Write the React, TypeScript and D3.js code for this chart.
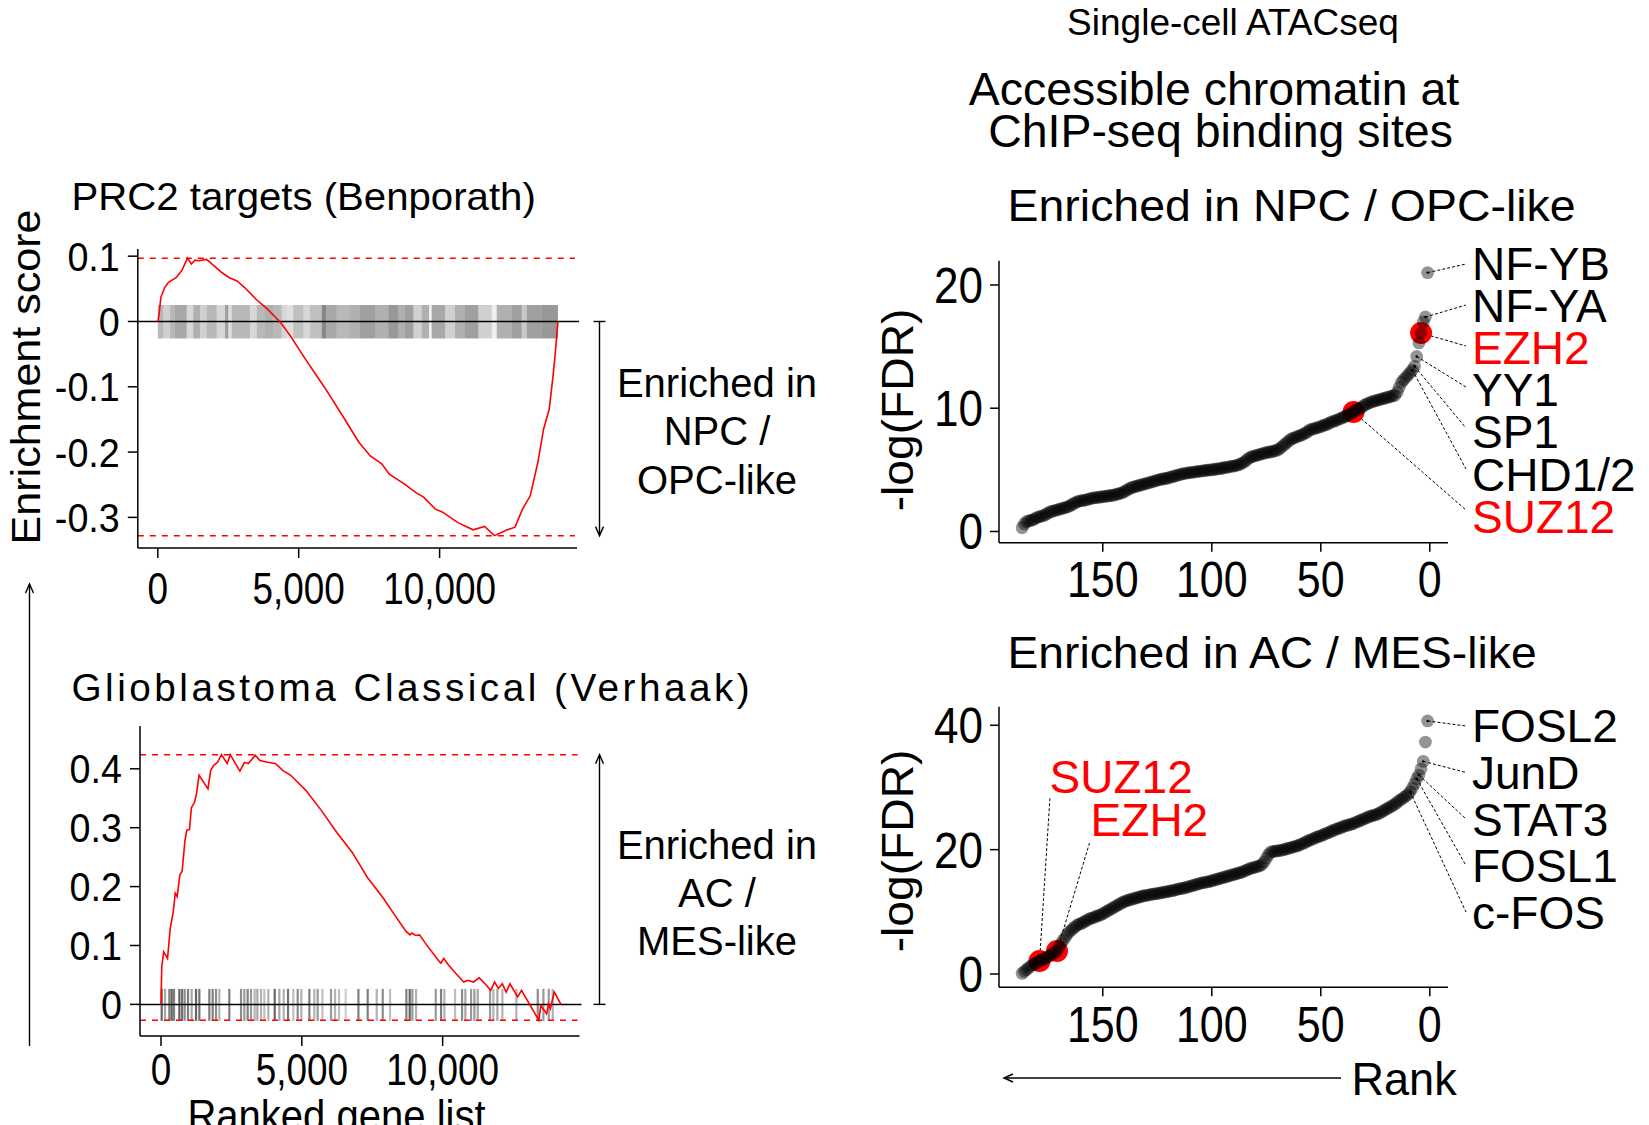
import React from 'react';
import * as d3 from 'd3';

const W = 1649;
const H = 1125;
const FONT = '"Liberation Sans", Arial, Helvetica, sans-serif';

// ---------- GSEA: PRC2 targets (Benporath) ----------
const prc2Rank = [0, 40, 108, 243, 378, 649, 851, 1054, 1189, 1324, 1459, 1730, 2000, 2270, 2540, 2811, 3081, 3486, 3892, 4365, 4703, 5243, 5919, 6595, 7135, 7541, 7946, 8216, 8757, 9162, 9432, 9838, 10108, 10649, 11189, 11595, 11946, 12405, 12676, 12946, 13216, 13486, 13689, 13892, 14027, 14095, 14200];
const prc2Score = [0, 0.009, 0.037, 0.052, 0.06, 0.067, 0.078, 0.097, 0.088, 0.094, 0.093, 0.095, 0.085, 0.075, 0.067, 0.062, 0.052, 0.034, 0.019, -0.002, -0.022, -0.058, -0.101, -0.147, -0.185, -0.206, -0.218, -0.234, -0.249, -0.262, -0.269, -0.287, -0.292, -0.308, -0.319, -0.314, -0.328, -0.319, -0.315, -0.287, -0.267, -0.216, -0.165, -0.134, -0.083, -0.053, 0];
// barcode read as bands: [from gene, to gene, darkness]
const prc2Rug: [number, number, number][] = [
  [0, 195, 0.45], [195, 433, 0.3], [433, 610, 0.45], [610, 1026, 0.55], [1026, 1260, 0.25], [1260, 1497, 0.5],
  [1497, 1735, 0.3], [1735, 2090, 0.45], [2090, 2385, 0.25], [2385, 2502, 0.6], [2502, 2622, 0.2], [2622, 3272, 0.45],
  [3272, 3510, 0.25], [3510, 3801, 0.45], [3801, 4099, 0.5], [4099, 4397, 0.45], [4397, 4574, 0.25], [4574, 4808, 0.2],
  [4808, 5163, 0.4], [5163, 5401, 0.25], [5401, 5816, 0.4], [5816, 5969, 0.75], [5969, 6348, 0.55], [6348, 6821, 0.45],
  [6821, 7175, 0.5], [7175, 7708, 0.6], [7708, 8180, 0.5], [8180, 8535, 0.65], [8535, 8772, 0.5], [8772, 9068, 0.6],
  [9068, 9365, 0.3], [9365, 9624, 0.5], [9624, 9719, 0.1], [9719, 10192, 0.55], [10192, 10546, 0.3], [10546, 10901, 0.5],
  [10901, 11373, 0.6], [11373, 11849, 0.3], [11849, 12026, 0.1], [12026, 12559, 0.5], [12559, 12913, 0.6],
  [12913, 13091, 0.35], [13091, 13623, 0.6], [13623, 14200, 0.65],
];
const prc2YTicks = [0.1, 0, -0.1, -0.2, -0.3];

// ---------- GSEA: Glioblastoma Classical (Verhaak) ----------
const gbmRank = [0, 27, 96, 232, 328, 437, 505, 574, 669, 751, 847, 915, 1011, 1079, 1189, 1257, 1352, 1667, 1762, 1872, 2008, 2145, 2350, 2459, 2801, 2964, 3101, 3347, 3511, 3784, 4057, 4331, 4604, 5150, 5697, 6243, 6790, 7336, 7883, 8292, 8702, 8839, 8907, 9044, 9180, 9385, 9795, 9932, 10041, 10205, 10478, 10751, 10888, 11093, 11298, 11503, 11708, 11844, 11981, 12117, 12254, 12391, 12664, 12800, 13415, 13484, 13689, 13757, 13825, 13962, 14200];
const gbmScore = [0, 0.064, 0.089, 0.078, 0.129, 0.158, 0.189, 0.183, 0.22, 0.226, 0.277, 0.296, 0.297, 0.334, 0.343, 0.357, 0.389, 0.366, 0.397, 0.406, 0.411, 0.424, 0.409, 0.424, 0.396, 0.411, 0.409, 0.423, 0.414, 0.411, 0.409, 0.397, 0.389, 0.363, 0.329, 0.292, 0.258, 0.215, 0.181, 0.152, 0.124, 0.118, 0.121, 0.117, 0.118, 0.104, 0.078, 0.07, 0.078, 0.067, 0.052, 0.038, 0.041, 0.038, 0.045, 0.035, 0.024, 0.038, 0.027, 0.035, 0.021, 0.035, 0.0125, 0.024, -0.027, -0.002, -0.016, 0.001, -0.007, 0.021, 0];
const gbmHits = [24, 142, 296, 379, 462, 651, 746, 840, 959, 1089, 1243, 1361, 1716, 1834, 1953, 2071, 2426, 2841, 2959, 3077, 3196, 3326, 3421, 3551, 3669, 3811, 4037, 4202, 4356, 4510, 4699, 4853, 4983, 5268, 5444, 5563, 5729, 6037, 6179, 6321, 6558, 7010, 7339, 7659, 7872, 8132, 8712, 8830, 8925, 9055, 9755, 9943, 10061, 10440, 10689, 10807, 11009, 11127, 11245, 11683, 11801, 11943, 12120, 12617, 13377, 13577, 13767, 13909];
const gbmHitShade = [0.6, 0.35, 0.5, 0.6, 0.5, 0.6, 0.55, 0.45, 0.5, 0.35, 0.6, 0.55, 0.5, 0.5, 0.45, 0.3, 0.5, 0.45, 0.4, 0.5, 0.4, 0.3, 0.35, 0.3, 0.25, 0.3, 0.6, 0.35, 0.3, 0.55, 0.25, 0.45, 0.3, 0.5, 0.3, 0.4, 0.25, 0.4, 0.3, 0.25, 0.2, 0.5, 0.5, 0.3, 0.45, 0.25, 0.5, 0.6, 0.4, 0.3, 0.4, 0.5, 0.3, 0.25, 0.45, 0.35, 0.4, 0.4, 0.35, 0.4, 0.3, 0.35, 0.3, 0.3, 0.45, 0.4, 0.4, 0.3];
const gbmYTicks = [0.4, 0.3, 0.2, 0.1, 0];

const geneTicks = [0, 5000, 10000];
const geneTickLabels = ['0', '5,000', '10,000'];

// ---------- scATAC: -log(FDR) by rank (rank 1 first) ----------
const npcFDR = [
  21.0, 17.4, 17.0, 16.1, 15.3, 14.2, 13.4, 13.1, 12.9, 12.7,
  12.5, 12.3, 12.1, 11.7, 11.3, 11.05, 11.0, 10.95, 10.9, 10.85,
  10.8, 10.75, 10.7, 10.65, 10.6, 10.55, 10.5, 10.4, 10.35, 10.25,
  10.1, 10.0, 9.9, 9.85, 9.7, 9.6, 9.5, 9.4, 9.3, 9.25,
  9.15, 9.1, 9.0, 8.95, 8.9, 8.8, 8.7, 8.65, 8.6, 8.5,
  8.45, 8.4, 8.35, 8.3, 8.25, 8.1, 8.0, 7.9, 7.8, 7.75,
  7.7, 7.6, 7.55, 7.45, 7.3, 7.15, 7.0, 6.85, 6.7, 6.6,
  6.55, 6.5, 6.45, 6.45, 6.4, 6.35, 6.3, 6.25, 6.2, 6.15,
  6.1, 6.05, 5.95, 5.8, 5.65, 5.55, 5.45, 5.4, 5.35, 5.3,
  5.3, 5.25, 5.2, 5.2, 5.15, 5.1, 5.1, 5.05, 5.05, 5.0,
  5.0, 4.98, 4.95, 4.92, 4.9, 4.88, 4.85, 4.82, 4.8, 4.78,
  4.75, 4.72, 4.7, 4.65, 4.6, 4.55, 4.5, 4.45, 4.4, 4.35,
  4.3, 4.28, 4.25, 4.2, 4.15, 4.1, 4.05, 4.0, 3.95, 3.9,
  3.85, 3.8, 3.75, 3.7, 3.65, 3.6, 3.55, 3.45, 3.35, 3.25,
  3.15, 3.1, 3.05, 3.0, 2.95, 2.92, 2.9, 2.88, 2.85, 2.82,
  2.8, 2.78, 2.75, 2.72, 2.7, 2.65, 2.6, 2.55, 2.52, 2.5,
  2.45, 2.4, 2.3, 2.2, 2.1, 2.0, 1.95, 1.9, 1.85, 1.8,
  1.75, 1.7, 1.65, 1.6, 1.5, 1.4, 1.3, 1.25, 1.2, 1.15,
  1.05, 0.95, 0.9, 0.85, 0.8, 0.6, 0.3,
];
const acFDR = [
  40.7, 37.3, 34.2, 33.0, 32.0, 31.4, 30.6, 29.9, 29.3, 28.9,
  28.6, 28.4, 28.1, 27.9, 27.6, 27.3, 27.1, 26.9, 26.7, 26.5,
  26.3, 26.1, 25.9, 25.7, 25.6, 25.5, 25.4, 25.3, 25.1, 25.0,
  24.8, 24.7, 24.5, 24.4, 24.2, 24.1, 24.0, 23.9, 23.8, 23.7,
  23.5, 23.4, 23.3, 23.1, 23.0, 22.8, 22.7, 22.5, 22.4, 22.2,
  22.1, 22.0, 21.8, 21.7, 21.5, 21.4, 21.2, 21.0, 20.9, 20.7,
  20.6, 20.5, 20.4, 20.3, 20.2, 20.1, 20.0, 19.9, 19.85, 19.8,
  19.75, 19.7, 19.6, 19.2, 18.6, 18.0, 17.6, 17.4, 17.3, 17.2,
  17.1, 17.0, 16.9, 16.7, 16.6, 16.4, 16.3, 16.2, 16.1, 16.0,
  15.9, 15.8, 15.7, 15.6, 15.5, 15.4, 15.3, 15.2, 15.1, 15.0,
  14.9, 14.8, 14.75, 14.7, 14.6, 14.5, 14.4, 14.3, 14.2, 14.1,
  14.0, 13.9, 13.8, 13.75, 13.7, 13.6, 13.5, 13.4, 13.35, 13.3,
  13.2, 13.15, 13.1, 13.0, 12.95, 12.9, 12.85, 12.8, 12.7, 12.65,
  12.6, 12.5, 12.4, 12.3, 12.2, 12.1, 12.0, 11.9, 11.8, 11.65,
  11.5, 11.3, 11.1, 10.9, 10.7, 10.5, 10.3, 10.1, 9.9, 9.7,
  9.5, 9.4, 9.3, 9.1, 9.0, 8.9, 8.7, 8.5, 8.3, 8.1,
  8.0, 7.8, 7.5, 7.2, 6.9, 6.5, 6.0, 5.5, 5.0, 4.4,
  3.7, 3.5, 3.3, 3.0, 2.8, 2.6, 2.4, 2.3, 2.1, 1.9,
  1.7, 1.5, 1.3, 1.0, 0.7, 0.4, 0.1,
];
const rankTicks = [150, 100, 50, 0];
const npcYTicks = [20, 10, 0];
const acYTicks = [40, 20, 0];

const npcNames = ['NF-YB', 'NF-YA', 'EZH2', 'YY1', 'SP1', 'CHD1/2', 'SUZ12'];
const npcNameRanks = [1, 2, 4, 6, 7, 8, 35];
const npcNameRed = [false, false, true, false, false, false, true];
const acNames = ['FOSL2', 'JunD', 'STAT3', 'FOSL1', 'c-FOS'];
const acNameRanks = [1, 3, 5, 6, 9];
const acPrcNames = ['SUZ12', 'EZH2'];
const acPrcRanks = [179, 171];

const RED = '#ff0000';

type TProps = {
  x: number; y: number; size: number; sx?: number; anchor?: string;
  fill?: string; rotate?: number; ls?: number; children: React.ReactNode;
};
const T = ({ x, y, size, sx = 1, anchor = 'start', fill = '#000', rotate = 0, ls, children }: TProps) => (
  <text
    transform={`translate(${x},${y})${rotate ? ` rotate(${rotate})` : ''} scale(${sx},1)`}
    fontSize={size}
    textAnchor={anchor as any}
    fill={fill}
    letterSpacing={ls}
  >
    {children}
  </text>
);

const Arrow = ({ x1, y1, x2, y2 }: { x1: number; y1: number; x2: number; y2: number }) => {
  // head drawn at (x2, y2)
  const a = Math.atan2(y2 - y1, x2 - x1);
  const L = 9, w = 4;
  const bx = x2 - L * Math.cos(a), by = y2 - L * Math.sin(a);
  const px = -Math.sin(a) * w, py = Math.cos(a) * w;
  return (
    <g>
      <line x1={x1} y1={y1} x2={x2} y2={y2} stroke="#000" strokeWidth={1.4} />
      <path d={`M${bx + px},${by + py}L${x2},${y2}L${bx - px},${by - py}`} fill="none" stroke="#000" strokeWidth={1.4} />
    </g>
  );
};

type GseaProps = {
  x0: number; x1: number; y0: number; y1: number;
  xDom: [number, number]; yDom: [number, number];
  rank: number[]; score: number[]; yTicks: number[];
  bands?: [number, number, number][]; hits?: number[]; hitShade?: number[];
  rugUp: number; rugDown: number;
  tickBase: number;
};

function Gsea(p: GseaProps) {
  const x = d3.scaleLinear().domain(p.xDom).range([p.x0, p.x1]);
  const y = d3.scaleLinear().domain(p.yDom).range([p.y1, p.y0]);
  const pts = p.rank.map((r, i) => [r, p.score[i]] as [number, number]);
  const line = d3.line<[number, number]>().x(d => x(d[0])).y(d => y(d[1]));
  const maxES = d3.max(p.score) as number;
  const minES = d3.min(p.score) as number;
  const z = y(0);
  return (
    <g>
      {p.bands && p.bands.map((b, i) => (
        <rect key={i} x={x(b[0])} width={x(b[1]) - x(b[0])} y={z - p.rugUp} height={p.rugUp + p.rugDown}
          fill="#000" fillOpacity={b[2] * 0.62} />
      ))}
      {p.hits && p.hits.map((h, i) => (
        <rect key={i} x={x(h) - 1.1} width={2.2} y={z - p.rugUp} height={p.rugUp + p.rugDown}
          fill="#000" fillOpacity={p.hitShade ? p.hitShade[i] : 0.5} />
      ))}
      <line x1={p.x0} x2={p.x1 - 2} y1={y(maxES)} y2={y(maxES)} stroke={RED} strokeWidth={1.5} strokeDasharray="6,6" />
      <line x1={p.x0} x2={p.x1 - 2} y1={y(minES)} y2={y(minES)} stroke={RED} strokeWidth={1.5} strokeDasharray="6,6" />
      <line x1={p.x0} x2={p.x1 + 2} y1={z} y2={z} stroke="#000" strokeWidth={1.5} />
      <path d={line(pts) || ''} fill="none" stroke={RED} strokeWidth={1.6} />
      {/* axes */}
      <line x1={p.x0} x2={p.x0} y1={p.y0} y2={p.y1} stroke="#000" strokeWidth={1.5} />
      <line x1={p.x0} x2={p.x1} y1={p.y1} y2={p.y1} stroke="#000" strokeWidth={1.5} />
      {p.yTicks.map(t => (
        <g key={t}>
          <line x1={p.x0 - 10} x2={p.x0} y1={y(t)} y2={y(t)} stroke="#000" strokeWidth={1.5} />
          <T x={p.x0 - 18} y={y(t) + 14.5} size={41} sx={0.92} anchor="end">{String(t)}</T>
        </g>
      ))}
      {geneTicks.map((t, i) => (
        <g key={t}>
          <line x1={x(t)} x2={x(t)} y1={p.y1} y2={p.y1 + 10} stroke="#000" strokeWidth={1.5} />
          <T x={x(t)} y={p.tickBase} size={45} sx={0.82} anchor="middle">{geneTickLabels[i]}</T>
        </g>
      ))}
      {/* bracket arrow on the right */}
      <line x1={593.5} x2={605.5} y1={z} y2={z} stroke="#000" strokeWidth={1.4} />
      {minES < -0.1
        ? <Arrow x1={599.5} y1={z} x2={599.5} y2={y(minES)} />
        : <Arrow x1={599.5} y1={z} x2={599.5} y2={y(maxES)} />}
    </g>
  );
}

type RankProps = {
  values: number[]; y0: number; y1: number; yDom: [number, number]; yTicks: number[];
  red: number[]; tickBase: number;
};
const rankX = d3.scaleLinear().domain([197.6, -8.35]).range([999, 1448]);

function RankPanel(p: RankProps) {
  const x0 = 999, x1 = 1448;
  const y = d3.scaleLinear().domain(p.yDom).range([p.y1, p.y0]);
  const pts = p.values.map((v, i) => ({ r: i + 1, v }));
  return (
    <g>
      {p.red.map(r => (
        <circle key={r} cx={rankX(r)} cy={y(p.values[r - 1])} r={11} fill={RED} />
      ))}
      {pts.slice().reverse().map(d => (
        <circle key={d.r} cx={rankX(d.r)} cy={y(d.v)} r={6.4} fill="#000" fillOpacity={0.42} />
      ))}
      <line x1={x0} x2={x0} y1={p.y0} y2={p.y1} stroke="#000" strokeWidth={1.5} />
      <line x1={x0} x2={x1} y1={p.y1} y2={p.y1} stroke="#000" strokeWidth={1.5} />
      {p.yTicks.map(t => (
        <g key={t}>
          <line x1={x0 - 9} x2={x0} y1={y(t)} y2={y(t)} stroke="#000" strokeWidth={1.5} />
          <T x={x0 - 16} y={y(t) + 18} size={50} sx={0.88} anchor="end">{String(t)}</T>
        </g>
      ))}
      {rankTicks.map(t => (
        <g key={t}>
          <line x1={rankX(t)} x2={rankX(t)} y1={p.y1} y2={p.y1 + 9} stroke="#000" strokeWidth={1.5} />
          <T x={rankX(t)} y={p.tickBase} size={50} sx={0.86} anchor="middle">{String(t)}</T>
        </g>
      ))}
    </g>
  );
}

const npcY = d3.scaleLinear().domain([-0.909, 21.96]).range([542.7, 260.8]);
const acY = d3.scaleLinear().domain([-2.14, 42.99]).range([987.3, 706.7]);

const Leader = ({ x1, y1, x2, y2 }: { x1: number; y1: number; x2: number; y2: number }) => (
  <g>
    <line x1={x1} y1={y1} x2={x2} y2={y2} stroke="#000" strokeWidth={1} strokeDasharray="3,2" />
    <circle cx={x1} cy={y1} r={1.2} fill="#000" />
  </g>
);

export default function App() {
  return (
    <svg width={W} height={H} style={{ position: 'absolute', left: 0, top: 0, background: '#fff' }}
      fontFamily={FONT}>
      <rect width={W} height={H} fill="#fff" />

      {/* ---------- left: GSEA ---------- */}
      <T x={71.5} y={210} size={39} sx={1.03}>PRC2 targets (Benporath)</T>
      <T x={40} y={377} size={41} sx={1.05} rotate={-90} anchor="middle">Enrichment score</T>
      <Gsea x0={137.8} x1={577} y0={249} y1={548} xDom={[-710, 14876]} yDom={[-0.3469, 0.111]}
        rank={prc2Rank} score={prc2Score} yTicks={prc2YTicks} bands={prc2Rug}
        rugUp={16.5} rugDown={17} tickBase={604} />
      <T x={717} y={397} size={40} anchor="middle">Enriched in</T>
      <T x={717} y={445} size={40} anchor="middle">NPC /</T>
      <T x={717} y={494} size={40} anchor="middle">OPC-like</T>

      <Arrow x1={29.5} y1={1046} x2={29.5} y2={584} />

      <T x={71.5} y={701} size={38} sx={1.02} ls={3.4}>Glioblastoma Classical (Verhaak)</T>
      <Gsea x0={140} x1={579.5} y0={726} y1={1036} xDom={[-746, 14859]} yDom={[-0.0537, 0.4727]}
        rank={gbmRank} score={gbmScore} yTicks={gbmYTicks} hits={gbmHits} hitShade={gbmHitShade}
        rugUp={15.5} rugDown={16.5} tickBase={1085} />
      <T x={717} y={859} size={40} anchor="middle">Enriched in</T>
      <T x={717} y={907} size={40} anchor="middle">AC /</T>
      <T x={717} y={955} size={40} anchor="middle">MES-like</T>
      <T x={336.5} y={1131} size={44} sx={0.91} anchor="middle">Ranked gene list</T>

      {/* ---------- right: scATAC ---------- */}
      <T x={1233} y={35} size={37} sx={1.0} anchor="middle">Single-cell ATACseq</T>
      <T x={1214} y={105} size={46} sx={1.01} anchor="middle">Accessible chromatin at</T>
      <T x={1220.5} y={147} size={46} sx={1.01} anchor="middle">ChIP-seq binding sites</T>
      <T x={1007.5} y={221} size={45} sx={1.033}>Enriched in NPC / OPC-like</T>

      <T x={913} y={410} size={44} sx={1.05} rotate={-90} anchor="middle">-log(FDR)</T>
      {npcNames.map((n, i) => {
        const r = npcNameRanks[i];
        const cy = 263 + i * 42.2;
        return <Leader key={n} x1={rankX(r)} y1={npcY(npcFDR[r - 1])} x2={1466} y2={cy + 1 - i * 1.2} />;
      })}
      <RankPanel values={npcFDR} y0={260.8} y1={542.7} yDom={[-0.909, 21.96]} yTicks={npcYTicks}
        red={npcNameRanks.filter((_, i) => npcNameRed[i])} tickBase={597} />
      {npcNames.map((n, i) => (
        <T key={n} x={1472} y={279.5 + i * 42.2} size={46} sx={1.0} fill={npcNameRed[i] ? RED : '#000'}>{n}</T>
      ))}

      <T x={1007.5} y={668} size={45} sx={1.027}>Enriched in AC / MES-like</T>
      <T x={913} y={851} size={44} sx={1.05} rotate={-90} anchor="middle">-log(FDR)</T>
      {acNames.map((n, i) => {
        const r = acNameRanks[i];
        return <Leader key={n} x1={rankX(r)} y1={acY(acFDR[r - 1])} x2={1466} y2={726 + i * 46.5} />;
      })}
      <Leader x1={rankX(acPrcRanks[0])} y1={acY(acFDR[acPrcRanks[0] - 1])} x2={1050} y2={797} />
      <Leader x1={rankX(acPrcRanks[1])} y1={acY(acFDR[acPrcRanks[1] - 1])} x2={1089.5} y2={843} />
      <RankPanel values={acFDR} y0={706.7} y1={987.3} yDom={[-2.14, 42.99]} yTicks={acYTicks}
        red={acPrcRanks} tickBase={1042} />
      {acNames.map((n, i) => (
        <T key={n} x={1472} y={742 + i * 46.8} size={46} sx={1.0}>{n}</T>
      ))}
      <T x={1049.6} y={792.5} size={46} sx={1.0} fill={RED}>{acPrcNames[0]}</T>
      <T x={1090.6} y={835.5} size={46} sx={1.0} fill={RED}>{acPrcNames[1]}</T>

      <Arrow x1={1341} y1={1078} x2={1004} y2={1078} />
      <T x={1351.5} y={1095} size={46} sx={0.98}>Rank</T>
    </svg>
  );
}
